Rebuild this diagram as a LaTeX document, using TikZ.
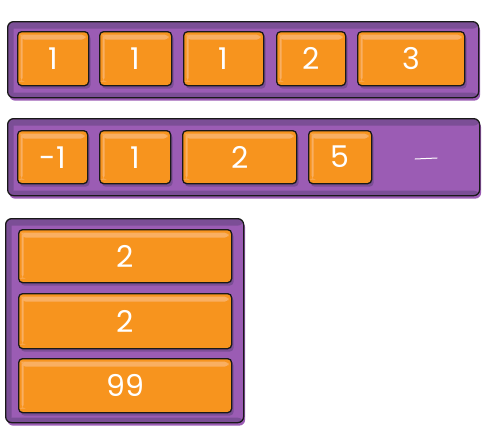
\documentclass[tikz,border=0pt]{standalone}
\usepackage{fontspec}
\setmainfont{Poppins}
\usetikzlibrary{shadows}
\definecolor{pur}{HTML}{9B5CB4}
\definecolor{purdark}{HTML}{7B4E96}
\definecolor{org}{HTML}{F7941E}
\definecolor{orghi}{HTML}{F9AF62}
\tikzset{
  cont/.style={draw=black!90, line width=1.3pt, fill=pur, rounded corners=6pt,
    inner sep=0pt, anchor=north west,
    drop shadow={fill=pur, opacity=1, shadow xshift=1.5pt, shadow yshift=-3pt},
    path picture={
      \fill[purdark] (path picture bounding box.north west) rectangle ([yshift=-7pt]path picture bounding box.north east);
      \fill[purdark] (path picture bounding box.north west) rectangle ([xshift=6pt]path picture bounding box.south west);
      \fill[purdark] ([yshift=5pt]path picture bounding box.south west) rectangle (path picture bounding box.south east);
    }},
  item/.style={draw=black!90, line width=1.3pt, fill=org, rounded corners=4pt,
    inner sep=0pt, anchor=north west, text=white,
    font=\fontsize{30}{30}\selectfont,
    drop shadow={fill=purdark, opacity=1, shadow xshift=2pt, shadow yshift=-3pt},
    path picture={
      \fill[orghi] ([shift={(3pt,-3pt)}]path picture bounding box.north west) rectangle ([shift={(-3pt,-8pt)}]path picture bounding box.north east);
      \fill[orghi] ([shift={(3pt,-3pt)}]path picture bounding box.north west) rectangle ([shift={(5pt,4pt)}]path picture bounding box.south west);
    }},
  gap/.style={white, line width=1pt, line cap=round}
}
\begin{document}
\begin{tikzpicture}[x=1pt, y=-1pt]
\useasboundingbox (0,0) rectangle (490,445);
% container 1
\node[cont, minimum width=471pt, minimum height=76pt] (c1) at (7,21) {};
\node[item, minimum width=71pt, minimum height=54pt] (a1) at (17,31) {1};
\node[item, minimum width=72pt, minimum height=54pt] (a2) at (99,31) {1};
\node[item, minimum width=80pt, minimum height=54pt] (a3) at (183,31) {1};
\node[item, minimum width=69pt, minimum height=54pt] (a4) at (276,31) {2};
\node[item, minimum width=107pt, minimum height=54pt] (a5) at (357,31) {3};
% container 2
\node[cont, minimum width=472pt, minimum height=77pt] (c2) at (7,118) {};
\node[item, minimum width=70pt, minimum height=53pt] (b1) at (17,130) {-1};
\node[item, minimum width=71pt, minimum height=53pt] (b2) at (99,130) {1};
\node[item, minimum width=114pt, minimum height=53pt] (b3) at (182,130) {2};
\node[item, minimum width=63pt, minimum height=53pt] (b4) at (308,130) {5};
\coordinate (d1) at (415,159);
\coordinate (d2) at (437,158);
\draw[gap] (d1) -- (d2);
% container 3
\node[cont, minimum width=238pt, minimum height=204pt] (c3) at (5,218) {};
\node[item, minimum width=213pt, minimum height=53pt] (e1) at (18,229) {2};
\node[item, minimum width=213pt, minimum height=55pt] (e2) at (18,293) {2};
\node[item, minimum width=213pt, minimum height=54pt] (e3) at (18,358) {99};
\end{tikzpicture}
\end{document}
